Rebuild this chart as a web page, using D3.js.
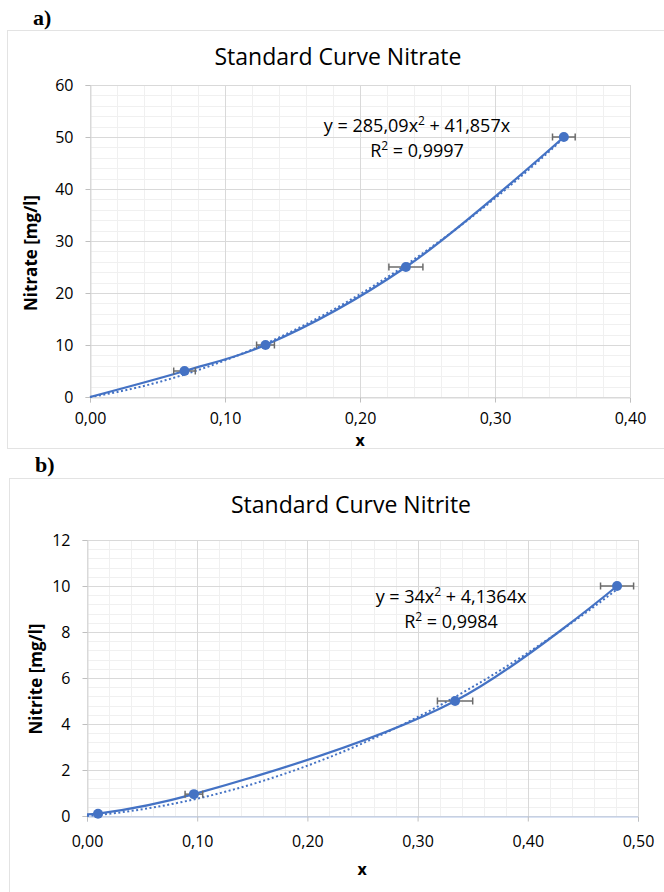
<!DOCTYPE html>
<html>
<head>
<meta charset="utf-8">
<script src="https://cdn.jsdelivr.net/npm/d3@7"></script>
<style>
  body { margin: 0; background: #fff; }
  text { font-family: "Open Sans", "Noto Sans", sans-serif; fill: #000; }
</style>
</head>
<body>
<script>
// ---- data ----
// a) nitrate
var nitrateX = [0.070, 0.130, 0.234, 0.351];
var nitrateY = [5, 10, 25, 50];
var nitrateErr = [0.008, 0.0066, 0.0126, 0.0084];
var nitrateLineX = [0, 0.070, 0.130, 0.234, 0.351];
var nitrateLineY = [0, 5, 10, 25, 50];
var nitrateFit = [285.09, 41.857];
var nitrateXTicks = [0, 0.1, 0.2, 0.3, 0.4];
var nitrateYTicks = [0, 10, 20, 30, 40, 50, 60];

// b) nitrite
var nitriteX = [0.010, 0.097, 0.334, 0.481];
var nitriteY = [0.1, 0.95, 5, 10];
var nitriteErr = [0.002, 0.008, 0.016, 0.015];
var nitriteLineX = [0, 0.010, 0.097, 0.334, 0.481];
var nitriteLineY = [0.07, 0.1, 0.95, 5, 10];
var nitriteFit = [34, 4.1364];
var nitriteXTicks = [0, 0.1, 0.2, 0.3, 0.4, 0.5];
var nitriteYTicks = [0, 2, 4, 6, 8, 10, 12];

var blue = "#4472C4";
var comma = function(f) { return function(v) { return f(v).replace(".", ","); }; };

var svg = d3.select("body").append("svg")
    .attr("width", 664)
    .attr("height", 892);

function drawPanel(o) {
	var g = svg.append("g");

	// chart area border
	g.append("rect")
		.attr("x", o.box[0] + 0.5).attr("y", o.box[1] + 0.5)
		.attr("width", o.box[2]).attr("height", o.box[3])
		.attr("fill", "#fff").attr("stroke", "#e3e3e3");

	g.append("text")
		.attr("x", o.tag[0]).attr("y", o.tag[1])
		.style("font-family", "'Liberation Serif', 'DejaVu Serif', serif")
		.style("font-weight", "bold").style("font-size", "22px")
		.text(o.tagText);

	g.append("text")
		.attr("x", o.titlePos[0]).attr("y", o.titlePos[1])
		.attr("text-anchor", "middle")
		.style("font-size", "23px")
		.text(o.title);

	var x = d3.scaleLinear().domain([0, o.xMax]).range([o.left, o.right]);
	var y = d3.scaleLinear().domain([0, o.yMax]).range([o.bottom, o.top]);

	// minor grid
	var xMinor = d3.range(0, o.xMax + 1e-9, o.xMax / (o.xTicks.length - 1) / 5);
	var yMinor = d3.range(0, o.yMax + 1e-9, o.yMax / (o.yTicks.length - 1) / 5);
	g.append("g").selectAll("line").data(xMinor).enter().append("line")
		.attr("x1", function(d) { return Math.round(x(d)) + 0.5; })
		.attr("x2", function(d) { return Math.round(x(d)) + 0.5; })
		.attr("y1", o.top).attr("y2", o.bottom)
		.attr("stroke", "#f0f0f0");
	g.append("g").selectAll("line").data(yMinor).enter().append("line")
		.attr("y1", function(d) { return Math.round(y(d)) + 0.5; })
		.attr("y2", function(d) { return Math.round(y(d)) + 0.5; })
		.attr("x1", o.left).attr("x2", o.right)
		.attr("stroke", "#f0f0f0");

	// major grid
	g.append("g").selectAll("line").data(o.xTicks).enter().append("line")
		.attr("x1", function(d) { return Math.round(x(d)) + 0.5; })
		.attr("x2", function(d) { return Math.round(x(d)) + 0.5; })
		.attr("y1", o.top).attr("y2", o.bottom)
		.attr("stroke", "#d9d9d9");
	g.append("g").selectAll("line").data(o.yTicks).enter().append("line")
		.attr("y1", function(d) { return Math.round(y(d)) + 0.5; })
		.attr("y2", function(d) { return Math.round(y(d)) + 0.5; })
		.attr("x1", o.left).attr("x2", o.right)
		.attr("stroke", "#d9d9d9");

	// axes
	var yAxis = g.append("g")
		.attr("transform", "translate(" + (o.left + 0.5) + ",0)")
		.call(d3.axisLeft(y).tickValues(o.yTicks).tickSize(5).tickPadding(12)
			.tickFormat(d3.format("d")));
	var xAxis = g.append("g")
		.attr("transform", "translate(0," + (o.bottom + 0.5) + ")")
		.call(d3.axisBottom(x).tickValues(o.xTicks).tickSize(5).tickPadding(o.xPad)
			.tickFormat(comma(d3.format(".2f"))));
	yAxis.select(".domain").attr("stroke", "#d9d9d9");
	xAxis.select(".domain").attr("stroke", o.xAxisColor);
	g.selectAll(".tick line").attr("stroke", "#bfbfbf");
	g.selectAll(".tick text")
		.style("font-family", "'Open Sans', sans-serif")
		.style("font-size", "16px").attr("fill", "#000");

	g.append("text")
		.attr("x", o.xTitle[0]).attr("y", o.xTitle[1])
		.attr("text-anchor", "middle")
		.style("font-weight", "bold").style("font-size", "16px")
		.text("x");
	g.append("text")
		.attr("transform", "translate(" + o.yTitle[0] + "," + o.yTitle[1] + ") rotate(-90)")
		.attr("text-anchor", "middle")
		.style("font-weight", "bold").style("font-size", "17px")
		.text(o.yTitleText);

	// polynomial trendline (dotted)
	var trendXs = d3.range(0, d3.max(o.px) + 1e-9, d3.max(o.px) / 120);
	g.append("path")
		.datum(trendXs)
		.attr("fill", "none")
		.attr("stroke", blue).attr("stroke-width", 2)
		.attr("stroke-dasharray", "2,2.5")
		.attr("d", d3.line()
			.x(function(d) { return x(d); })
			.y(function(d) { return y(o.fit[0] * d * d + o.fit[1] * d); }));

	// smoothed series line
	g.append("path")
		.datum(d3.zip(o.lx, o.ly))
		.attr("fill", "none")
		.attr("stroke", blue).attr("stroke-width", 2.25)
		.attr("d", d3.line().curve(d3.curveCatmullRom.alpha(0.5))
			.x(function(d) { return x(d[0]); })
			.y(function(d) { return y(d[1]); }));

	var pts = d3.zip(o.px, o.py, o.err);

	// x error bars
	var eb = g.append("g").attr("stroke", "#6b6b6b").attr("stroke-width", 1.5);
	eb.selectAll(".bar").data(pts).enter().append("line")
		.attr("x1", function(d) { return x(d[0] - d[2]); })
		.attr("x2", function(d) { return x(d[0] + d[2]); })
		.attr("y1", function(d) { return y(d[1]); })
		.attr("y2", function(d) { return y(d[1]); });
	[-1, 1].forEach(function(s) {
		eb.selectAll(".cap" + s).data(pts).enter().append("line")
			.attr("x1", function(d) { return x(d[0] + s * d[2]); })
			.attr("x2", function(d) { return x(d[0] + s * d[2]); })
			.attr("y1", function(d) { return y(d[1]) - 3.5; })
			.attr("y2", function(d) { return y(d[1]) + 3.5; });
	});

	g.append("g").selectAll("circle").data(pts).enter().append("circle")
		.attr("cx", function(d) { return x(d[0]); })
		.attr("cy", function(d) { return y(d[1]); })
		.attr("r", 5)
		.attr("fill", blue);

	// equation label
	var eq = g.append("text")
		.attr("x", o.eqPos[0]).attr("y", o.eqPos[1])
		.attr("text-anchor", "middle")
		.style("font-size", "18px");
	eq.append("tspan").text(o.eq[0]);
	eq.append("tspan").attr("dy", -7).style("font-size", "12px").text("2");
	eq.append("tspan").attr("dy", 7).text(o.eq[1]);
	var r2 = g.append("text")
		.attr("x", o.eqPos[0]).attr("y", o.eqPos[1] + 25)
		.attr("text-anchor", "middle")
		.style("font-size", "18px");
	r2.append("tspan").text("R");
	r2.append("tspan").attr("dy", -7).style("font-size", "12px").text("2");
	r2.append("tspan").attr("dy", 7).text(" = " + o.r2);
}

drawPanel({
	box: [7, 30, 700, 418], tag: [33, 25], tagText: "a)",
	title: "Standard Curve Nitrate", titlePos: [338, 65],
	left: 90, right: 630, top: 85, bottom: 397,
	xMax: 0.4, yMax: 60, xTicks: nitrateXTicks, yTicks: nitrateYTicks,
	xPad: 10, xAxisColor: "#d9d9d9",
	xTitle: [360, 446], yTitle: [37, 253], yTitleText: "Nitrate [mg/l]",
	px: nitrateX, py: nitrateY, err: nitrateErr, lx: nitrateLineX, ly: nitrateLineY,
	fit: nitrateFit, eqPos: [417, 132], eq: ["y = 285,09x", " + 41,857x"], r2: "0,9997"
});

drawPanel({
	box: [9, 478, 700, 450], tag: [35, 472], tagText: "b)",
	title: "Standard Curve Nitrite", titlePos: [351, 513],
	left: 87, right: 638, top: 540, bottom: 816,
	xMax: 0.5, yMax: 12, xTicks: nitriteXTicks, yTicks: nitriteYTicks,
	xPad: 14, xAxisColor: "#b4c6e7",
	xTitle: [362, 875], yTitle: [42, 679], yTitleText: "Nitrite [mg/l]",
	px: nitriteX, py: nitriteY, err: nitriteErr, lx: nitriteLineX, ly: nitriteLineY,
	fit: nitriteFit, eqPos: [451, 603], eq: ["y = 34x", " + 4,1364x"], r2: "0,9984"
});
</script>
</body>
</html>
